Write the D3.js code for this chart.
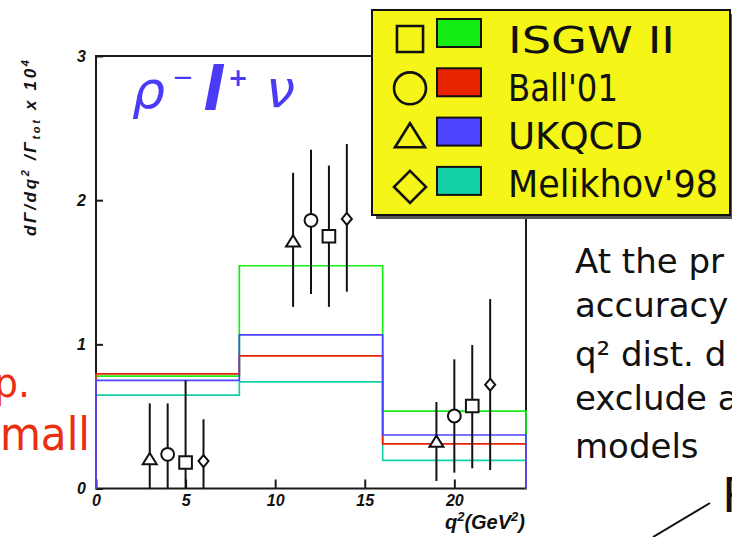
<!DOCTYPE html>
<html><head><meta charset="utf-8">
<script src="https://cdn.jsdelivr.net/npm/d3@7"></script>
<style>
html,body{margin:0;padding:0;background:#fff;overflow:hidden}
svg{display:block}
</style></head><body>
<svg id="chart" width="732" height="537"></svg>
<script>
// q^2 bins (GeV^2) and predicted rates per bin for each form-factor model
const binEdges = [0, 8, 16, 24];
const isgwBins = [0.78, 1.545, 0.537];
const ballBins = [0.795, 0.92, 0.31];
const ukqcdBins = [0.75, 1.065, 0.371];
const melikhovBins = [0.648, 0.74, 0.195];

// measured points (one set per model used in the efficiency), with error bars
const isgwQ2 = [5, 13, 21];
const isgwVal = [0.18, 1.75, 0.572];
const isgwHi = [0.75, 2.24, 0.995];
const isgwLo = [0, 1.26, 0.14];

const ballQ2 = [4, 12, 20];
const ballVal = [0.237, 1.86, 0.503];
const ballHi = [0.59, 2.35, 0.896];
const ballLo = [0, 1.35, 0.11];

const ukqcdQ2 = [3, 11, 19];
const ukqcdVal = [0.2, 1.71, 0.32];
const ukqcdHi = [0.59, 2.19, 0.60];
const ukqcdLo = [0, 1.26, 0.052];

const melikhovQ2 = [6, 14, 22];
const melikhovVal = [0.19, 1.87, 0.72];
const melikhovHi = [0.48, 2.39, 1.314];
const melikhovLo = [0, 1.365, 0.128];

const modelNames = ["ISGW II", "Ball'01", "UKQCD", "Melikhov'98"];
const modelColors = ["#14ee14", "#e82400", "#4c44ff", "#14d0a8"];
const xTickValues = [0, 5, 10, 15, 20];
const yTickValues = [0, 1, 2, 3];

const svg = d3.select("#chart");
const x = d3.scaleLinear().domain([0, 24]).range([96, 526]);
const y = d3.scaleLinear().domain([0, 3]).range([488.5, 56]);

const tickFont = "'Liberation Sans', Arial, sans-serif";

// plot frame
svg.append("rect")
  .attr("x", x(0)).attr("y", y(3))
  .attr("width", x(24) - x(0)).attr("height", y(0) - y(3))
  .attr("fill", "none").attr("stroke", "#1a1a1a").attr("stroke-width", 2);

// axes with inward ticks
const yAxis = svg.append("g").attr("transform", `translate(${x(0)},0)`)
  .call(d3.axisLeft(y).tickValues(yTickValues).tickSize(-7).tickPadding(10).tickFormat(d3.format("d")));
const xAxis = svg.append("g").attr("transform", `translate(0,${y(0)})`)
  .call(d3.axisBottom(x).tickValues(xTickValues).tickSize(-9).tickPadding(6).tickFormat(d3.format("d")));
[yAxis, xAxis].forEach(g => {
  g.select(".domain").remove();
  g.selectAll("line").attr("stroke", "#1a1a1a").attr("stroke-width", 2);
  g.selectAll("text").attr("fill", "#111").style("font-family", tickFont)
    .style("font-size", "16px").style("font-weight", "bold").style("font-style", "italic");
});

// histogram outlines of the model predictions
const stepLine = d3.line().x(d => x(d[0])).y(d => y(d[1]));
function stepPoints(vals) {
  const pts = [[binEdges[0], 0]];
  vals.forEach((v, i) => { pts.push([binEdges[i], v]); pts.push([binEdges[i + 1], v]); });
  pts.push([binEdges[binEdges.length - 1], 0]);
  return pts;
}
const histOrder = [
  { vals: melikhovBins, color: modelColors[3] },
  { vals: isgwBins, color: modelColors[0] },
  { vals: ballBins, color: modelColors[1] },
  { vals: ukqcdBins, color: modelColors[2] }
];
histOrder.forEach(h => {
  svg.append("path").attr("d", stepLine(stepPoints(h.vals)))
    .attr("fill", "none").attr("stroke", h.color).attr("stroke-width", 1.7);
});

// marker shapes
const triangleType = { draw(ctx, size) {
  const w = Math.sqrt(size), h = w * 0.8;
  ctx.moveTo(0, -h * 0.6); ctx.lineTo(w / 2, h * 0.4); ctx.lineTo(-w / 2, h * 0.4); ctx.closePath();
} };
const diamondType = { draw(ctx, size) {
  const w = Math.sqrt(size) / 2, h = w * 1.2;
  ctx.moveTo(0, -h); ctx.lineTo(w, 0); ctx.lineTo(0, h); ctx.lineTo(-w, 0); ctx.closePath();
} };

const pointSets = [
  { q2: ukqcdQ2, val: ukqcdVal, hi: ukqcdHi, lo: ukqcdLo, type: triangleType, size: 196 },
  { q2: ballQ2, val: ballVal, hi: ballHi, lo: ballLo, type: d3.symbolCircle, size: 130 },
  { q2: isgwQ2, val: isgwVal, hi: isgwHi, lo: isgwLo, type: d3.symbolSquare, size: 160 },
  { q2: melikhovQ2, val: melikhovVal, hi: melikhovHi, lo: melikhovLo, type: diamondType, size: 100 }
];
pointSets.forEach(s => {
  const g = svg.append("g");
  s.q2.forEach((q, i) => {
    g.append("line").attr("x1", x(q)).attr("x2", x(q))
      .attr("y1", y(s.lo[i])).attr("y2", y(s.hi[i]))
      .attr("stroke", "#111").attr("stroke-width", 2);
  });
  s.q2.forEach((q, i) => {
    g.append("path").attr("d", d3.symbol().type(s.type).size(s.size)())
      .attr("transform", `translate(${x(q)},${y(s.val[i])})`)
      .attr("fill", "#fff").attr("stroke", "#111").attr("stroke-width", 2);
  });
});

// decay channel label
const chan = svg.append("g").attr("fill", "#4a3cf5");
chan.append("text").attr("x", 132).attr("y", 108).text("ρ")
  .style("font-family", "'DejaVu Sans'").style("font-style", "italic").style("font-size", "52px");
chan.append("text").attr("x", 172).attr("y", 86).text("−")
  .style("font-family", "'DejaVu Sans'").style("font-size", "26px");
chan.append("text").attr("x", 203).attr("y", 110).text("l")
  .style("font-family", "'DejaVu Sans'").style("font-weight", "bold").style("font-style", "italic").style("font-size", "60px");
chan.append("text").attr("x", 228).attr("y", 86).text("+")
  .style("font-family", "'DejaVu Sans'").style("font-weight", "bold").style("font-size", "24px");
chan.append("text").attr("x", 266).attr("y", 107).text("ν")
  .style("font-family", "'DejaVu Sans'").style("font-style", "italic").style("font-size", "52px");

// axis titles
const yTitle = svg.append("text")
  .attr("transform", "translate(36,148) rotate(-90)")
  .attr("text-anchor", "middle").attr("fill", "#111")
  .attr("textLength", 176).attr("lengthAdjust", "spacing")
  .style("font-family", tickFont).style("font-size", "17px")
  .style("font-weight", "bold").style("font-style", "italic");
yTitle.append("tspan").text("dΓ/dq");
yTitle.append("tspan").attr("dy", -7).style("font-size", "11px").text("2");
yTitle.append("tspan").attr("dy", 7).text(" /Γ");
yTitle.append("tspan").attr("dy", 4).style("font-size", "11px").text("tot");
yTitle.append("tspan").attr("dy", -4).text(" x 10");
yTitle.append("tspan").attr("dy", -7).style("font-size", "11px").text("4");

const xTitle = svg.append("text")
  .attr("x", 525).attr("y", 529).attr("text-anchor", "end").attr("fill", "#111")
  .style("font-family", tickFont).style("font-size", "20px")
  .style("font-weight", "bold").style("font-style", "italic");
xTitle.append("tspan").text("q");
xTitle.append("tspan").attr("dy", -8).style("font-size", "13px").text("2");
xTitle.append("tspan").attr("dy", 8).text("(GeV");
xTitle.append("tspan").attr("dy", -8).style("font-size", "13px").text("2");
xTitle.append("tspan").attr("dy", 8).text(")");

// legend box
const legend = svg.append("g");
legend.append("rect").attr("x", 376).attr("y", 14).attr("width", 358).attr("height", 205).attr("fill", "#555");
legend.append("rect").attr("x", 372).attr("y", 10).attr("width", 358).attr("height", 205)
  .attr("fill", "#f5f517").attr("stroke", "#111").attr("stroke-width", 2);

const legendMarkerTypes = [d3.symbolSquare, d3.symbolCircle, triangleType, diamondType];
const legendMarkerSizes = [680, 800, 900, 900];
const legendTextWidths = [167, 110, 135, 210];
modelNames.forEach((name, i) => {
  const rowY = 33 + i * 49.3;
  const markerType = i === 3
    ? { draw(ctx, size) { const w = 16; ctx.moveTo(0, -w); ctx.lineTo(w, 0); ctx.lineTo(0, w); ctx.lineTo(-w, 0); ctx.closePath(); } }
    : legendMarkerTypes[i];
  legend.append("path").attr("d", d3.symbol().type(markerType).size(legendMarkerSizes[i])())
    .attr("transform", `translate(410,${rowY + 6})`)
    .attr("fill", "none").attr("stroke", "#111").attr("stroke-width", 2.6);
  legend.append("rect").attr("x", 437).attr("y", rowY - 14).attr("width", 44).attr("height", 28)
    .attr("fill", modelColors[i]).attr("stroke", "#111").attr("stroke-width", 2);
  legend.append("text").attr("x", 508).attr("y", 53 + i * 48)
    .attr("textLength", legendTextWidths[i]).attr("lengthAdjust", "spacingAndGlyphs")
    .attr("fill", "#111").style("font-family", "'DejaVu Sans'").style("font-size", "37px")
    .text(name);
});

// surrounding slide text
const noteLines = ["At the pr", "accuracy", "q² dist. d", "exclude a", "models"];
const noteBaselines = [273, 317, 366, 410, 458];
noteLines.forEach((t, i) => {
  svg.append("text").attr("x", 575).attr("y", noteBaselines[i]).attr("fill", "#111")
    .style("font-family", "'DejaVu Sans'").style("font-size", "34px").text(t);
});

svg.append("text").attr("x", -6).attr("y", 397).attr("textLength", 36).attr("lengthAdjust", "spacingAndGlyphs")
  .attr("fill", "#e83010").style("font-family", "'DejaVu Sans'").style("font-size", "40px").text("p.");
svg.append("text").attr("x", -22).attr("y", 450).attr("textLength", 112).attr("lengthAdjust", "spacingAndGlyphs")
  .attr("fill", "#e83010").style("font-family", "'DejaVu Sans'").style("font-size", "46px").text("small");

svg.append("line").attr("x1", 653).attr("y1", 537).attr("x2", 710).attr("y2", 503)
  .attr("stroke", "#111").attr("stroke-width", 2);
svg.append("text").attr("x", 722).attr("y", 512).attr("fill", "#111")
  .style("font-family", "'DejaVu Sans'").style("font-size", "48px").text("R");
</script>
</body></html>
